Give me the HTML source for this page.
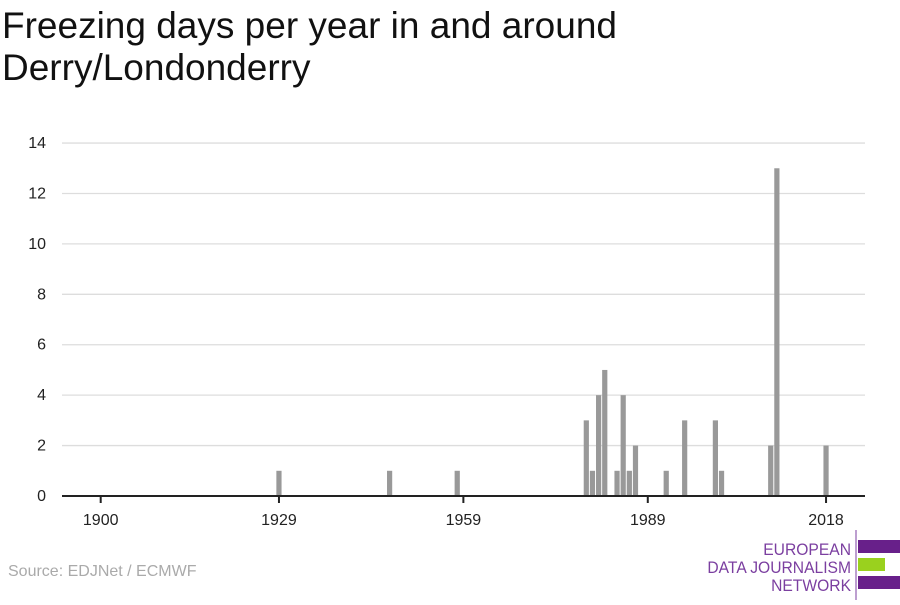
<!DOCTYPE html>
<html><head><meta charset="utf-8"><style>
body{margin:0;width:900px;height:600px;background:#fff;overflow:hidden;font-family:"Liberation Sans",sans-serif}
</style></head><body>
<svg width="900" height="600" id="c">
<text x="2" y="38" font-size="37" fill="#111">Freezing days per year in and around</text>
<text x="2" y="80" font-size="37" fill="#111">Derry/Londonderry</text>
<g id="grid"></g><g id="bars"></g><g id="axes"></g>
<text x="8" y="576" font-size="16" fill="#aaa">Source: EDJNet / ECMWF</text>
<g>
<line x1="856" y1="530" x2="856" y2="600" stroke="#7b3fa0" stroke-width="1"/>
<rect x="858" y="540" width="42" height="13" fill="#68208a"/>
<rect x="858" y="558" width="27" height="13" fill="#9ad11e"/>
<rect x="858" y="576" width="42" height="13" fill="#68208a"/>
<g font-size="17" fill="#7b3fa0" text-anchor="end" transform="translate(851,0) scale(0.92,1)">
<text x="0" y="555">EUROPEAN</text><text x="0" y="573">DATA JOURNALISM</text><text x="0" y="591">NETWORK</text></g>
</g>
</svg>
<script>
const years=[1929,1947,1958,1979,1980,1981,1982,1984,1985,1986,1987,1992,1995,2000,2001,2009,2010,2018];
const values=[1,1,1,3,1,4,5,1,4,1,2,1,3,3,1,2,13,2];
const yTicks=[0,2,4,6,8,10,12,14];
const xTicks=[1900,1929,1959,1989,2018];
const NS="http://www.w3.org/2000/svg";
const x=y=>100.7+(y-1900)*6.147;
const yy=v=>496-v*25.21;
function mk(t,a,p){const e=document.createElementNS(NS,t);for(const k in a)e.setAttribute(k,a[k]);p.appendChild(e);return e;}
const g=document.getElementById('grid'),b=document.getElementById('bars'),ax=document.getElementById('axes');
yTicks.forEach(v=>{
 if(v>0){const l=mk('line',{x1:62,x2:865,y1:yy(v),y2:yy(v),stroke:'#ddd','stroke-width':1.3},g);
 
 }
 const t=mk('text',{x:46,y:yy(v)+5,'font-size':16,fill:'#222','text-anchor':'end'},ax);t.textContent=v;
 
 
});
years.forEach((yr,i)=>{
 const r=mk('rect',{x:x(yr)-2.6,y:yy(values[i]),width:5.2,height:496-yy(values[i]),fill:'#999'},b);
 
 
});
const al=mk('line',{x1:62,x2:865,y1:496,y2:496,stroke:'#222','stroke-width':2},ax);


xTicks.forEach(yr=>{
 mk('line',{x1:x(yr),x2:x(yr),y1:496,y2:503,stroke:'#222','stroke-width':2},ax);
 const t=mk('text',{x:x(yr),y:525,'font-size':16,fill:'#222','text-anchor':'middle'},ax);t.textContent=yr;
 
 
});
</script>
</body></html>
